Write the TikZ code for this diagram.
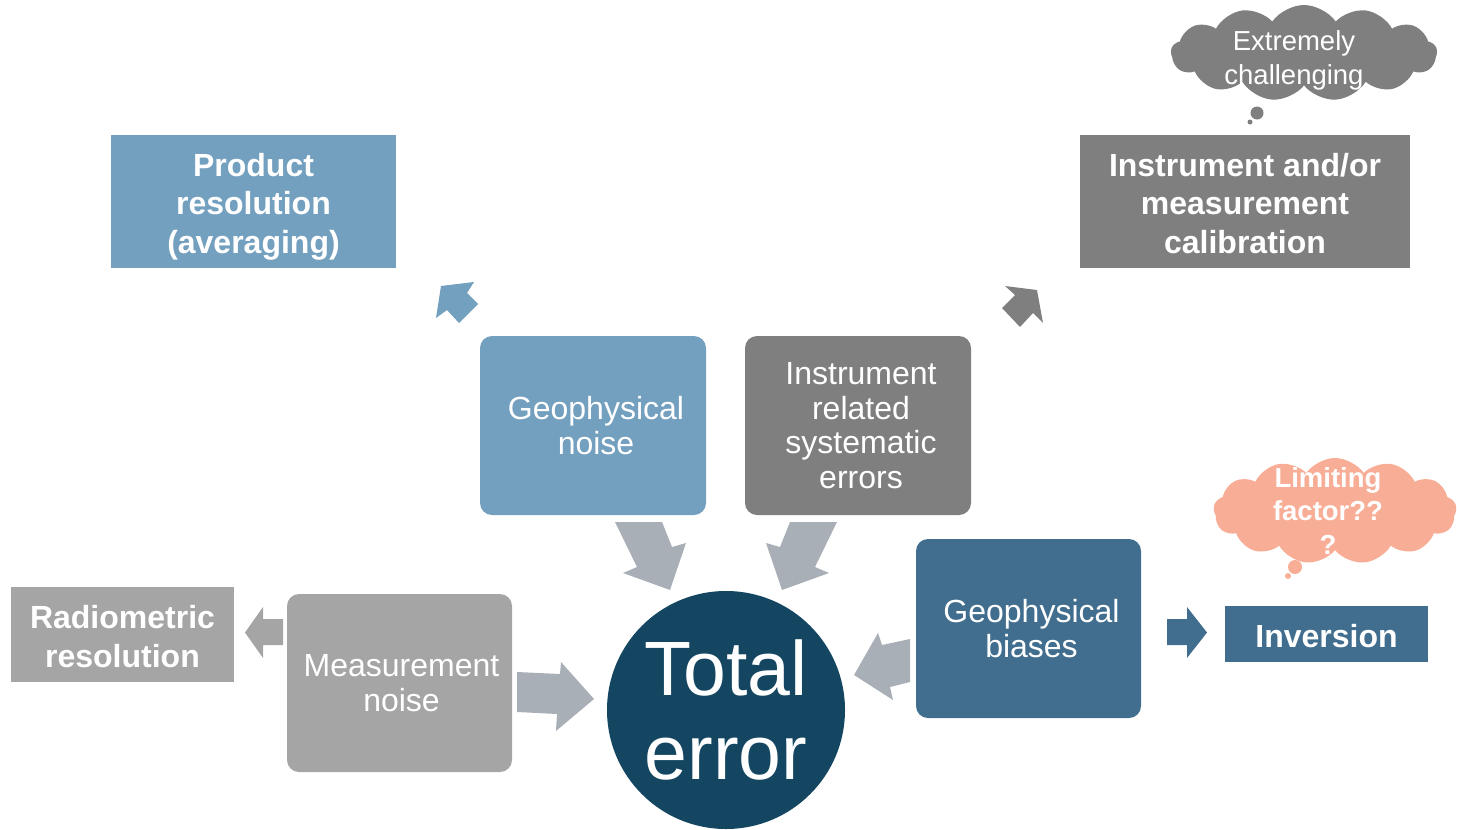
\documentclass[tikz,border=0pt]{standalone}
\usepackage{fontspec}
\setmainfont{Liberation Sans}
\usetikzlibrary{shapes.symbols}
\definecolor{lblue}{RGB}{116,160,192}
\definecolor{dgray}{RGB}{127,127,127}
\definecolor{lgray}{RGB}{165,165,165}
\definecolor{navy}{RGB}{20,70,98}
\definecolor{mblue}{RGB}{65,110,142}
\definecolor{agray}{RGB}{169,175,183}
\definecolor{salmon}{RGB}{248,173,150}
\newcommand\bfnt{\fontsize{32}{38.5}\selectfont\bfseries}
\newcommand\rfnt{\fontsize{32}{34.5}\selectfont}
\begin{document}
\begin{tikzpicture}[x=1pt,y=-1pt,
  box/.style={fill=#1, align=center, inner sep=0pt, draw=none},
  rbox/.style={box=#1, rounded corners=12pt},
  cloudshape/.style={cloud, cloud puffs=13, cloud puff arc=110, aspect=2.8, fill=#1, draw=none, inner sep=0pt},
  lbl/.style={text=white, align=center, inner sep=0pt}]
\useasboundingbox (0,0) rectangle (1457,830);
% boxes
\node[box=lblue, minimum width=285pt, minimum height=133pt] (prod) at (253.5,201.5) {};
\node[lbl, font=\bfnt] (prodt) at ([yshift=-5pt]prod.center) {Product\\resolution\\(averaging)};
\node[box=dgray, minimum width=330pt, minimum height=133pt] (calib) at (1245,201.5) {};
\node[lbl, font=\bfnt] (calibt) at ([yshift=-2pt]calib.center) {Instrument and/or\\measurement\\calibration};
\node[rbox=lblue, minimum width=226pt, minimum height=179pt] (gnoise) at (593,425.5) {};
\node[lbl, font=\rfnt] (gnoiset) at ([xshift=3pt]gnoise.center) {Geophysical\\noise};
\node[rbox=dgray, minimum width=226pt, minimum height=179pt] (isys) at (858,425.5) {};
\node[lbl, font=\rfnt] (isyst) at ([xshift=3pt]isys.center) {Instrument\\related\\systematic\\errors};
\node[box=lgray, minimum width=223pt, minimum height=95pt] (radio) at (122.5,634.5) {};
\node[lbl, font=\bfnt] (radiot) at ([yshift=-2pt]radio.center) {Radiometric\\resolution};
\node[rbox=lgray, minimum width=225pt, minimum height=178pt] (mnoise) at (399.5,683) {};
\node[lbl, font=\rfnt] (mnoiset) at ([xshift=2pt]mnoise.center) {Measurement\\noise};
\node[rbox=mblue, minimum width=225pt, minimum height=179pt] (gbias) at (1028.5,628.5) {};
\node[lbl, font=\rfnt] (gbiast) at ([xshift=3pt]gbias.center) {Geophysical\\biases};
\node[box=mblue, minimum width=203pt, minimum height=56pt] (inv) at (1326.5,634) {};
\node[lbl, font=\bfnt] (invt) at ([yshift=-2pt]inv.center) {Inversion};
\node[circle, fill=navy, minimum size=238pt, inner sep=0pt, text=white, align=center, font=\fontsize{77}{84}\selectfont] (total) at (726,710) {Total\\error};
% block arrows
\fill[agray] (615,522) -- (662,522) -- (672,547) -- (686,543) -- (670,590) -- (623,573) -- (637,567) -- cycle;
\fill[agray] (837,522) -- (790,522) -- (780,547) -- (766,543) -- (782,590) -- (829,573) -- (815,567) -- cycle;
\fill[agray] (517,672) -- (560,674) -- (561,662) -- (594,699) -- (556,731) -- (557,714) -- (517,712) -- cycle;
\fill[agray] (910,639) -- (882,645) -- (878,633) -- (854,675) -- (893,700) -- (890,687) -- (910,682) -- cycle;
\fill[lgray] (283,619) -- (263,619) -- (263,607) -- (245,632.5) -- (263,658) -- (263,645) -- (283,645) -- cycle;
\fill[mblue] (1167,619) -- (1187,619) -- (1187,607) -- (1207,632.5) -- (1187,658) -- (1187,645) -- (1167,645) -- cycle;
\fill[lblue] (441,286) -- (474,282) -- (467,293) -- (478,304) -- (459,323) -- (447,310) -- (436,318) -- cycle;
\fill[dgray] (1005,286) -- (1037,290) -- (1043,323) -- (1033,313) -- (1020,327) -- (1002,308) -- (1015,295) -- cycle;
% clouds
\node[cloudshape=dgray, minimum width=266pt, minimum height=96pt] (c1) at (1304,53) {};
\fill[dgray] (1257,113) circle (6.5pt);
\fill[dgray] (1250,122) circle (2.5pt);
\node[lbl, font=\fontsize{27.5}{34}\selectfont] (c1t) at (1294,60) {Extremely\\challenging};
\node[cloudshape=salmon, minimum width=243pt, minimum height=106pt] (c2) at (1335,511) {};
\fill[salmon] (1295,567) circle (7pt);
\fill[salmon] (1288,576) circle (3pt);
\node[lbl, font=\fontsize{27.5}{33.5}\selectfont\bfseries] (c2t) at (1328,511) {Limiting\\factor??\\?};
\end{tikzpicture}
\end{document}
